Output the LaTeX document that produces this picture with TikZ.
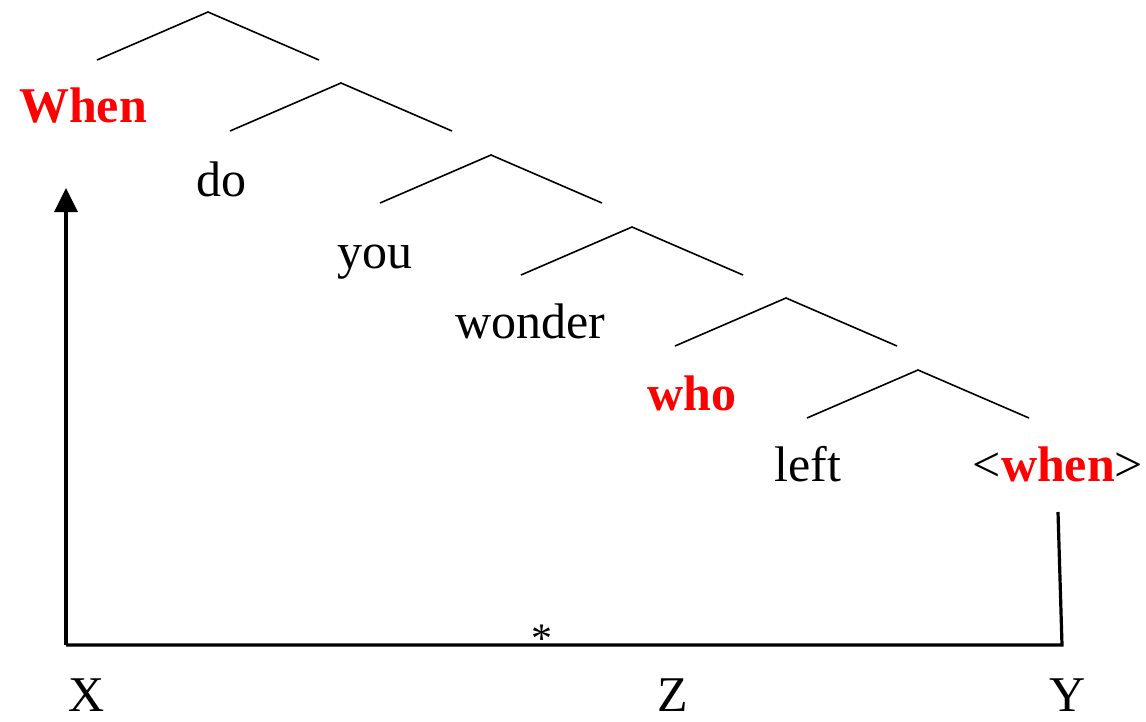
\documentclass[tikz,border=0pt]{standalone}
\usepackage{fontspec}
\setmainfont{Liberation Serif}
\usetikzlibrary{arrows.meta}
\definecolor{movered}{RGB}{255,0,0}
\begin{document}
\begin{tikzpicture}[x=1pt, y=-1pt,
    wd/.style={font=\fontsize{50}{60}\selectfont, anchor=base, inner sep=0pt},
    wh/.style={wd, text=movered, font=\fontsize{50}{60}\selectfont\bfseries},
    br/.style={line width=1.6pt},
    mv/.style={line width=3.2pt}
]
    \useasboundingbox (0,0) rectangle (1146,721);

    % words
    \node[wh] (w1) at (83,122) {When};
    \node[wd] (w2) at (221,196) {do};
    \node[wd] (w3) at (375,268) {you};
    \node[wd] (w4) at (530,338) {wonder};
    \node[wh] (w5) at (692,410) {who};
    \node[wd] (w6) at (808,481) {left};
    \node[wd] (w7) at (1058,481) {<\textcolor{movered}{\textbf{when}}>};

    % branches
    \foreach \i/\px/\py in {1/208/12, 2/341/83, 3/491/155, 4/632/227, 5/786/298, 6/918/370} {
        \coordinate (t\i) at (\px,\py);
        \coordinate (l\i) at (\px-111,\py+48);
        \coordinate (r\i) at (\px+111,\py+48);
        \draw[br] (l\i) -- (t\i) -- (r\i);
    }

    % path of the move
    \coordinate (ytop) at (1058,512);
    \coordinate (ybot) at (1062,645);
    \coordinate (xbot) at (66,645);
    \coordinate (xtop) at (66,188);
    \draw[mv, line join=miter] (ytop) -- (ybot) -- (xbot);
    \draw[mv, -{Triangle[length=24pt,width=23pt]}] (xbot) -- (xtop);
    \node[wd, font=\fontsize{42}{50}\selectfont] (st) at (542,652) {*};

    \node[wd] (nx) at (87,711) {X};
    \node[wd] (nz) at (673,711) {Z};
    \node[wd] (ny) at (1068,711) {Y};
\end{tikzpicture}
\end{document}
